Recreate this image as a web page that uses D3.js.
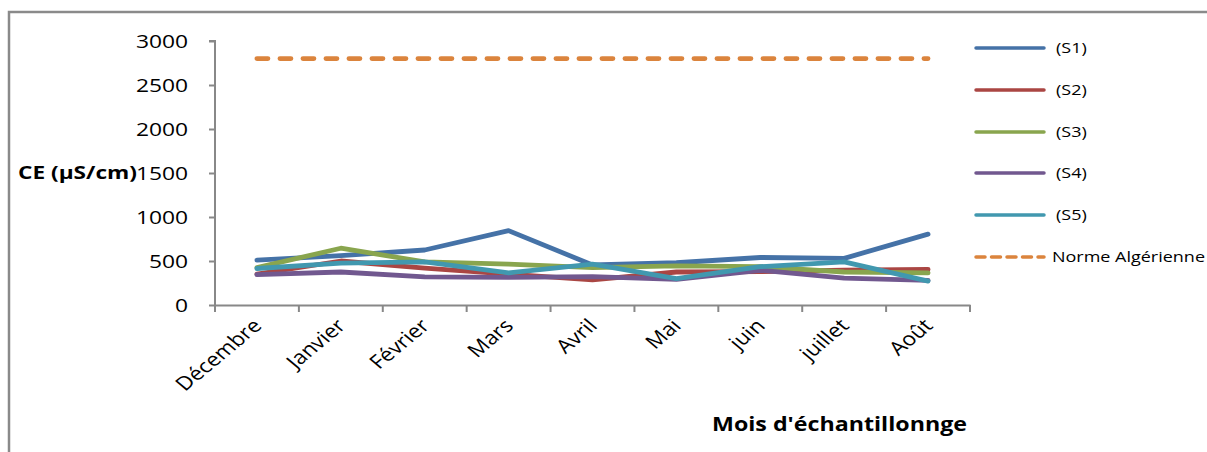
<!DOCTYPE html>
<html><head><meta charset="utf-8">
<script src="https://cdn.jsdelivr.net/npm/d3@7"></script>
<style>html,body{margin:0;padding:0;background:#fff;} svg{display:block;}</style>
</head><body>
<svg id="chart" width="1207" height="452"></svg>
<script>
const months = ["Décembre","Janvier","Février","Mars","Avril","Mai","juin","juillet","Août"];
const s1 = [510, 560, 625, 845, 455, 480, 540, 530, 805];
const s2 = [350, 500, 420, 350, 285, 375, 380, 395, 405];
const s3 = [425, 645, 490, 465, 425, 445, 435, 375, 365];
const s4 = [345, 375, 320, 315, 322, 292, 395, 305, 280];
const s5 = [415, 475, 490, 365, 465, 300, 435, 490, 272];
const norme = [2800, 2800, 2800, 2800, 2800, 2800, 2800, 2800, 2800];
const yTicks = [0, 500, 1000, 1500, 2000, 2500, 3000];
const seriesNames = ["(S1)","(S2)","(S3)","(S4)","(S5)","Norme Algérienne"];
const colors = ["#4572A7","#AA4643","#89A54E","#71588F","#4198AF","#DB843D"];

const series = [s1,s2,s3,s4,s5,norme].map((v,i)=>({name:seriesNames[i], values:v, color:colors[i], dashed:i===5}));

const svg = d3.select("#chart");
const font = "'Open Sans', 'Liberation Sans', sans-serif";
const SX = 1.2; // horizontal stretch of the reference text

// frame
svg.append("path").attr("d","M9,452 V12 H1207").attr("fill","none").attr("stroke","#8a8a8a").attr("stroke-width",2.5);

const pL = 215, pR = 970, pT = 41, pB = 305;
const x = d3.scaleBand().domain(months).range([pL, pR]);
const y = d3.scaleLinear().domain([0, 3000]).range([pB, pT]);

// y axis
const yAxis = svg.append("g").attr("transform",`translate(${pL},0)`)
  .call(d3.axisLeft(y).tickValues(yTicks).tickSize(6).tickFormat(""));
yAxis.select(".domain").attr("stroke","#888").attr("stroke-width",2).attr("d",`M-6,${pT}H0V${pB}`);
yAxis.selectAll(".tick line").attr("stroke","#888").attr("stroke-width",2);
yAxis.selectAll(".tick text").remove();
svg.append("g").selectAll("text").data(yTicks).enter().append("text")
  .attr("transform", d => `translate(${pL-27},${y(d)}) scale(${SX},1)`)
  .attr("dy","0.35em").attr("text-anchor","end")
  .attr("font-family",font).attr("font-size",19).attr("fill","#000")
  .text(d3.format("d"));

// x axis
const xAxis = svg.append("g").attr("transform",`translate(0,${pB})`)
  .call(d3.axisBottom(x).tickSize(0).tickFormat(""));
xAxis.select(".domain").attr("stroke","#888").attr("stroke-width",2);
xAxis.selectAll(".tick").remove();
const boundaries = months.map(m => x(m)).concat([pR]);
xAxis.selectAll(".bt").data(boundaries).enter().append("line").attr("class","bt")
  .attr("x1",d=>d).attr("x2",d=>d).attr("y1",0).attr("y2",7).attr("stroke","#888").attr("stroke-width",2);

svg.append("g").selectAll("text").data(months).enter().append("text")
  .attr("transform", d => `translate(${x(d)+x.bandwidth()/2+6},${pB+22}) scale(${SX},1) rotate(-45)`)
  .attr("text-anchor","end").attr("font-family",font).attr("font-size",19).attr("fill","#000")
  .text(d=>d);

// titles
svg.append("text").attr("x",18).attr("y",173).attr("dy","0.35em")
  .attr("textLength",119).attr("lengthAdjust","spacingAndGlyphs")
  .attr("font-family",font).attr("font-weight","bold").attr("font-size",18).attr("fill","#000").text("CE (µS/cm)");
svg.append("text").attr("x",712).attr("y",431)
  .attr("textLength",255).attr("lengthAdjust","spacingAndGlyphs")
  .attr("font-family",font).attr("font-weight","bold").attr("font-size",20).attr("fill","#000").text("Mois d'échantillonnge");

// lines
const line = d3.line().x((d,i)=>x(months[i])+x.bandwidth()/2).y(d=>y(d));
svg.append("g").selectAll("path").data(series).enter().append("path")
  .attr("d", d=>line(d.values)).attr("fill","none")
  .attr("stroke", d=>d.color).attr("stroke-width",4.8)
  .attr("stroke-linecap","round").attr("stroke-linejoin","round")
  .attr("stroke-dasharray", d=>d.dashed ? "11 12" : null);

// legend
const lg = svg.append("g");
const ly = [48, 90, 132, 173, 215, 257];
series.forEach((s,i)=>{
  lg.append("line").attr("x1",976).attr("x2",1044).attr("y1",ly[i]).attr("y2",ly[i])
    .attr("stroke",s.color).attr("stroke-width",3.5).attr("stroke-linecap","round")
    .attr("stroke-dasharray", s.dashed ? "9 6.5" : null);
  lg.append("text").attr("transform",`translate(${s.dashed ? 1052 : 1056},${ly[i]}) scale(${SX},1)`)
    .attr("dy","0.35em")
    .attr("font-family",font).attr("font-size",15).attr("fill","#000").text(s.name);
});
</script>
</body></html>
